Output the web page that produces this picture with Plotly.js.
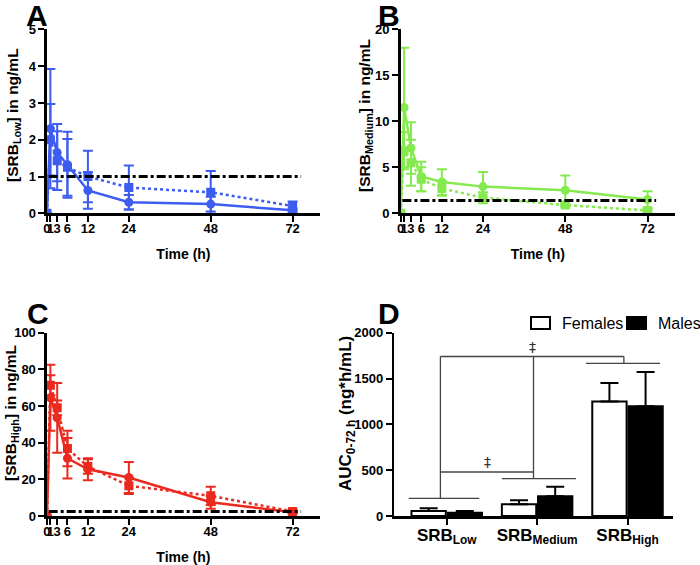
<!DOCTYPE html>
<html>
<head>
<meta charset="utf-8">
<script src="https://cdn.plot.ly/plotly-3.0.1.min.js"></script>
<style>
html,body{margin:0;padding:0;background:#fff;}
#chart{width:700px;height:565px;}
</style>
</head>
<body>
<div id="chart"></div>
<script>
// ---------- data ----------
const timeH = [0, 1, 3, 6, 12, 24, 48, 72];
const timeTicks = [0, 1, 3, 6, 12, 24, 48, 72];

const lowCircle   = [0, 2.3, 1.65, 1.32, 0.62, 0.3, 0.25, 0.08];
const lowCircleSD = [0, 1.62, 0.78, 0.9, 0.5, 0.2, 0.2, 0.05];
const lowSquare   = [0, 2.0, 1.43, 1.25, 1.0, 0.7, 0.57, 0.2];
const lowSquareSD = [0, 0.97, 0.8, 0.77, 0.7, 0.6, 0.58, 0.12];

const medCircle   = [0, 11.5, 7.1, 4.0, 3.4, 2.9, 2.5, 1.5];
const medCircleSD = [0, 6.5, 2.8, 1.6, 1.4, 1.6, 1.6, 0.9];
const medSquare   = [0, 6.8, 5.5, 3.7, 2.7, 1.7, 0.9, 0.3];
const medSquareSD = [0, 2.0, 2.5, 1.3, 0.8, 0.6, 0.2, 0.2];

const highCircle   = [0, 64.5, 53.5, 31.5, 25.5, 21, 7.5, 2];
const highCircleSD = [0, 18, 19, 11, 6, 8.5, 3.5, 0.5];
const highSquare   = [0, 71.3, 59, 36.8, 27, 16.5, 11, 2.5];
const highSquareSD = [0, 5.5, 4, 9.7, 4, 4.5, 5, 1];

const lloqX = [0.5, 74.5];
const lloqLow = 1.0, lloqMed = 1.4, lloqHigh = 2.5;

const groups = ["SRB<sub>Low</sub>", "SRB<sub>Medium</sub>", "SRB<sub>High</sub>"];
const aucFemales   = [55, 127, 1250];
const aucFemalesSD = [30, 45, 200];
const aucMales     = [35, 215, 1197];
const aucMalesSD   = [20, 105, 375];
const legendNames  = ["Females", "Males"];

const yTitles = ["[SRB<sub>Low</sub>] in ng/mL", "[SRB<sub>Medium</sub>] in ng/mL",
                 "[SRB<sub>High</sub>] in ng/mL", "AUC<sub>0-72 h</sub> (ng*h/mL)"];

// ---------- styling ----------
const FONT = "Liberation Sans, Arial, Helvetica, sans-serif";
const blue = "#3d5cf0", green = "#84ea4e", red = "#ea2a1f";

function pkTraces(xa, ya, circ, circSD, sq, sqSD, lloq, color) {
  return [
    {x: timeH, y: sq, xaxis: xa, yaxis: ya, type: "scatter", mode: "lines+markers",
     name: "Females", showlegend: false,
     line: {color: color, width: 2.5, dash: "dot"},
     marker: {symbol: "square", size: 9, color: color},
     error_y: {type: "data", array: sqSD, color: color, thickness: 2, width: 5}},
    {x: timeH, y: circ, xaxis: xa, yaxis: ya, type: "scatter", mode: "lines+markers",
     name: "Males", showlegend: false,
     line: {color: color, width: 2.5},
     marker: {symbol: "circle", size: 9, color: color},
     error_y: {type: "data", array: circSD, color: color, thickness: 2, width: 5}},
    {x: lloqX, y: [lloq, lloq], xaxis: xa, yaxis: ya, type: "scatter", mode: "lines",
     showlegend: false, hoverinfo: "skip",
     line: {color: "#000", width: 3, dash: "dashdot"}}
  ];
}

const data = [].concat(
  pkTraces("x", "y", lowCircle, lowCircleSD, lowSquare, lowSquareSD, lloqLow, blue),
  pkTraces("x2", "y2", medCircle, medCircleSD, medSquare, medSquareSD, lloqMed, green),
  pkTraces("x3", "y3", highCircle, highCircleSD, highSquare, highSquareSD, lloqHigh, red),
  [
    {x: groups, y: aucFemales, xaxis: "x4", yaxis: "y4", type: "bar", name: legendNames[0],
     showlegend: false,
     marker: {color: "#fff", line: {color: "#000", width: 2}},
     error_y: {type: "data", symmetric: false, array: aucFemalesSD, arrayminus: [0,0,0],
               color: "#000", thickness: 2, width: 9}},
    {x: groups, y: aucMales, xaxis: "x4", yaxis: "y4", type: "bar", name: legendNames[1],
     showlegend: false,
     marker: {color: "#000", line: {color: "#000", width: 2}},
     error_y: {type: "data", symmetric: false, array: aucMalesSD, arrayminus: [0,0,0],
               color: "#000", thickness: 2, width: 9}}
  ]
);

const tickFont = {family: FONT, size: 13, color: "#000", weight: "bold"};
function xTime(domain) {
  return {domain: domain, range: [0, 80], tickmode: "array", tickvals: timeTicks,
    ticktext: timeTicks.map(String), tickangle: 0, ticklabelstandoff: -4,
    showline: true, linewidth: 2.5, linecolor: "#000",
    ticks: "outside", ticklen: 6, tickwidth: 2, tickcolor: "#000", showgrid: false,
    zeroline: false, tickfont: tickFont,
    title: {text: "Time (h)", font: {family: FONT, size: 14, color: "#000", weight: "bold"}, standoff: 14}};
}
function yConc(domain, range, dtick, anchor) {
  return {domain: domain, range: range, dtick: dtick, anchor: anchor,
    showline: true, linewidth: 2.5, linecolor: "#000",
    ticks: "outside", ticklen: 6, tickwidth: 2, tickcolor: "#000", showgrid: false,
    zeroline: false, tickfont: tickFont};
}

const gline = {color: "#444", width: 1.3};
function seg(x0, y0, x1, y1) {
  return {type: "line", xref: "x4", yref: "y4", x0: x0, y0: y0, x1: x1, y1: y1, line: gline};
}
function letter(t, px, py) {
  return {text: t, x: px/700, y: 1 - py/565, xref: "paper", yref: "paper", showarrow: false,
    xanchor: "center", yanchor: "middle", font: {family: FONT, size: 30, weight: "bold", color: "#000"}};
}
function yTitle(t, px, py, size) {
  return {text: t, x: px/700, y: 1 - py/565, xref: "paper", yref: "paper", showarrow: false,
    textangle: -90, xanchor: "center", yanchor: "middle",
    font: {family: FONT, size: size, weight: "bold", color: "#000"}};
}
function legBox(px0, px1, fill) {
  return {type: "rect", xref: "paper", yref: "paper", x0: px0/700, x1: px1/700,
    y0: 1 - 329/565, y1: 1 - 317/565, fillcolor: fill, line: {color: "#000", width: 2}};
}
function legText(t, px) {
  return {text: t, x: px/700, y: 1 - 323/565, xref: "paper", yref: "paper", showarrow: false,
    xanchor: "left", yanchor: "middle", font: {family: FONT, size: 16, color: "#000"}};
}

const layout = {
  width: 700, height: 565,
  margin: {l: 0, r: 0, t: 0, b: 0, autoexpand: false},
  paper_bgcolor: "#fff", plot_bgcolor: "rgba(0,0,0,0)",
  font: {family: FONT, color: "#000"},
  showlegend: false,
  barmode: "group", bargap: 0.2, bargroupgap: 0.05,
  xaxis: Object.assign(xTime([0.0671, 0.457]), {anchor: "y"}),
  yaxis: yConc([0.6225, 0.948], [0, 5], 1, "x"),
  xaxis2: Object.assign(xTime([0.5724, 0.9643]), {anchor: "y2"}),
  yaxis2: yConc([0.6225, 0.948], [0, 20], 5, "x2"),
  xaxis3: Object.assign(xTime([0.0671, 0.457]), {anchor: "y3"}),
  yaxis3: yConc([0.0867, 0.4112], [0, 100], 20, "x3"),
  xaxis4: {domain: [0.5633, 0.961], anchor: "y4", range: [-0.58, 2.5], tickangle: 0,
    ticklabelstandoff: -4,
    showline: true, linewidth: 2.5, linecolor: "#000", ticks: "outside", ticklen: 6, tickwidth: 2,
    tickcolor: "#000", showgrid: false, zeroline: false,
    tickfont: {family: FONT, size: 17, color: "#000", weight: "bold"}},
  yaxis4: yConc([0.0867, 0.4112], [0, 2000], 500, "x4"),
  shapes: [
    seg(-0.42, 193, 0.36, 193),
    seg(0.61, 407, 1.43, 407),
    seg(1.54, 1666, 2.36, 1666),
    seg(-0.07, 193, -0.07, 1740),
    seg(-0.07, 480, 0.96, 480),
    seg(0.96, 407, 0.96, 1740),
    seg(-0.07, 1740, 1.96, 1740),
    seg(1.96, 1666, 1.96, 1740),
    legBox(531, 550, "#fff"),
    legBox(627, 646, "#000")
  ],
  annotations: [
    letter("A", 37, 15),
    letter("B", 389, 15),
    letter("C", 38, 313),
    letter("D", 389, 313),
    yTitle(yTitles[0], 14, 115, 15.5),
    yTitle(yTitles[1], 365, 116, 15.5),
    yTitle(yTitles[2], 11, 413, 15.5),
    yTitle(yTitles[3], 347, 414, 17),
    legText(legendNames[0], 560),
    legText(legendNames[1], 656),
    {text: "‡", x: 0.45, y: 590, xref: "x4", yref: "y4", showarrow: false,
     font: {family: "DejaVu Sans, sans-serif", size: 14, color: "#333"}},
    {text: "‡", x: 0.95, y: 1840, xref: "x4", yref: "y4", showarrow: false,
     font: {family: "DejaVu Sans, sans-serif", size: 14, color: "#333"}}
  ]
};

Plotly.newPlot("chart", data, layout, {displayModeBar: false, staticPlot: true});
</script>
</body>
</html>
